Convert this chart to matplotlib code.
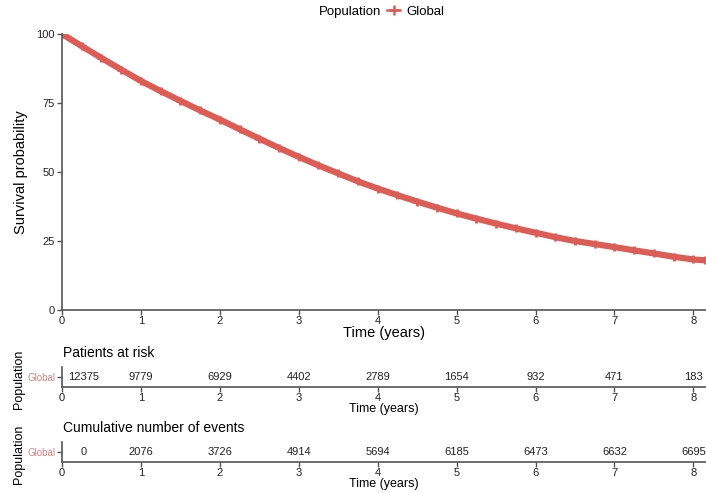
import matplotlib.pyplot as plt
import matplotlib.transforms as mtrans
from matplotlib.lines import Line2D

# survival curve
time_pts = [0, 0.25, 0.5, 0.75, 1, 1.25, 1.5, 1.75, 2, 2.25, 2.5, 2.75, 3, 3.25, 3.5,
            3.75, 4, 4.25, 4.5, 4.75, 5, 5.25, 5.5, 5.75, 6, 6.25, 6.5, 6.75, 7,
            7.25, 7.5, 7.75, 8, 8.15]
surv = [100, 95.6, 91.3, 87.1, 83.0, 79.3, 75.8, 72.3, 69.0, 65.5, 62.1, 58.7, 55.5,
        52.4, 49.5, 46.6, 44.0, 41.6, 39.3, 37.1, 35.0, 33.1, 31.3, 29.6, 28.0,
        26.4, 25.0, 23.9, 22.8, 21.6, 20.5, 19.3, 18.3, 18.0]

risk_times = [0, 1, 2, 3, 4, 5, 6, 7, 8]
at_risk = [12375, 9779, 6929, 4402, 2789, 1654, 932, 471, 183]
cum_events = [0, 2076, 3726, 4914, 5694, 6185, 6473, 6632, 6695]

red = '#dd5c56'
pink = '#d98383'
axcol = '#555555'

plt.rcParams['font.family'] = ['Liberation Sans', 'DejaVu Sans']

fig = plt.figure(figsize=(7.06, 4.93), dpi=100)
W, H = 706, 493


def px_axes(x0, y0, x1, y1):
    return fig.add_axes([x0 / W, 1 - y1 / H, (x1 - x0) / W, (y1 - y0) / H])


def style(ax):
    for s in ['top', 'right']:
        ax.spines[s].set_visible(False)
    for s in ['left', 'bottom']:
        ax.spines[s].set_color(axcol)
        ax.spines[s].set_linewidth(1.2)
    ax.tick_params(colors=axcol, labelcolor='#222222', labelsize=8, length=3.5, width=1)
    ax.set_xlim(0, 8.16)
    ax.set_xticks(risk_times)


ax = px_axes(62, 34, 706, 310)
style(ax)
ax.plot(time_pts, surv, color=red, lw=4.5, solid_capstyle='butt')
ax.plot(time_pts, surv, color=red, lw=0, marker='+', ms=6, mew=2)
ax.set_ylim(0, 100)
ax.set_yticks([0, 25, 50, 75, 100])
ax.set_ylabel('Survival probability', fontsize=10.5, labelpad=6)
ax.set_xlabel('Time (years)', fontsize=10.5, labelpad=0)
ax.tick_params(axis='x', pad=1)
ax.tick_params(axis='y', pad=2)

# legend on one row, title to the left
fig.text(381 / W, 1 - 12 / H, 'Population', ha='right', va='center', fontsize=9.5)
handle = Line2D([], [], color=red, lw=1.8, marker='+', ms=7, mew=1.8)
fig.legend([handle], ['Global'], loc='center left', bbox_to_anchor=(387 / W, 1 - 12 / H),
           frameon=False, fontsize=9.5, handlelength=1.0, handletextpad=0.5,
           borderpad=0, borderaxespad=0)

tables = [(367, 387, 'Patients at risk', at_risk),
          (442, 462, 'Cumulative number of events', cum_events)]
for y0, y1, title, vals in tables:
    tax = px_axes(62, y0, 706, y1)
    style(tax)
    tax.set_ylim(0, 1)
    tax.set_yticks([0.5])
    tax.set_yticklabels(['Global'])
    tax.get_yticklabels()[0].set_color(pink)
    tax.get_yticklabels()[0].set_fontsize(7)
    tax.tick_params(axis='x', pad=1)
    tax.tick_params(axis='y', pad=1.5)
    for t, v in zip(risk_times, vals):
        tr = tax.transData
        if t == risk_times[0]:
            # first value is nudged right of the axis line
            tr = mtrans.offset_copy(tax.transData, fig=fig, x=22, y=0, units='dots')
        tax.text(t, 0.5, str(v), ha='center', va='center', fontsize=8,
                 color='#222222', transform=tr)
    fig.text(63 / W, 1 - (y0 - 7) / H, title, fontsize=10, ha='left', va='bottom')
    tax.set_xlabel('Time (years)', fontsize=9, labelpad=0)
    fig.text(19 / W, 1 - ((y0 + y1) / 2 + 2) / H, 'Population', rotation=90,
             ha='center', va='center', fontsize=9)

fig.savefig('out.png', dpi=100)
